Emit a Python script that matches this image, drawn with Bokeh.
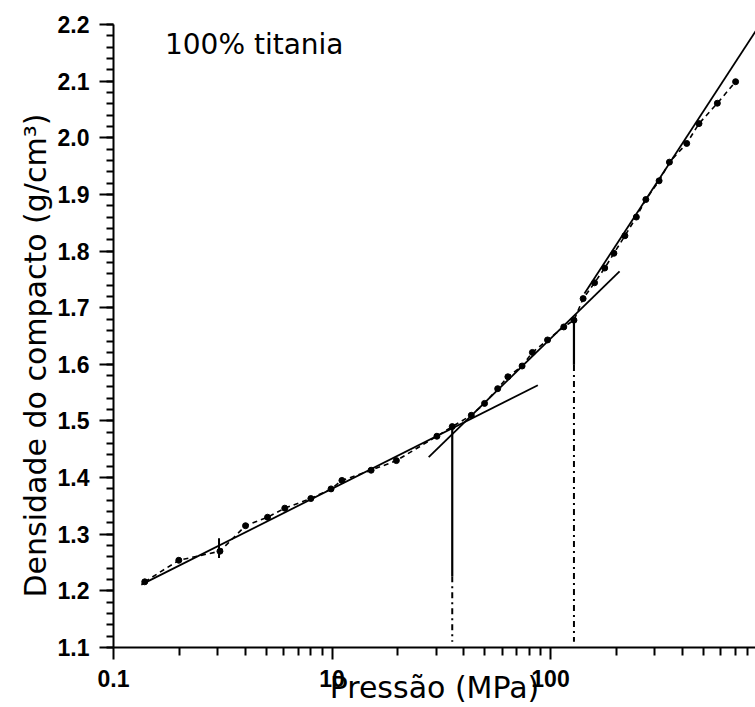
from bokeh.plotting import figure
from bokeh.models import Range1d, FixedTicker, Label, Title
from bokeh.embed import file_html
from bokeh.resources import INLINE

# ---- data (pressure in MPa as labelled, density g/cm3) ----
pressure = [1.39, 1.99, 3.07, 4.02, 5.07, 6.08, 8.0, 9.9, 11.1, 15.1, 19.7,
            30.2, 35.5, 43.4, 49.9, 57.3, 63.8, 74.1, 82.6, 96.9, 115, 128,
            141, 159, 177, 195, 219, 247, 273, 314, 350, 420, 478, 580, 703]
density = [1.216, 1.254, 1.270, 1.315, 1.330, 1.346, 1.363, 1.380, 1.395, 1.413, 1.430,
           1.473, 1.490, 1.510, 1.531, 1.557, 1.578, 1.597, 1.621, 1.643, 1.666, 1.678,
           1.716, 1.744, 1.770, 1.796, 1.827, 1.860, 1.891, 1.924, 1.957, 1.990, 2.025, 2.061, 2.099]

fit1_p = [1.34, 87.5]
fit1_d = [1.211, 1.563]
fit2_p = [27.7, 207]
fit2_d = [1.436, 1.764]
fit3_p = [143, 885]
fit3_d = [1.725, 2.193]

break_p = [35.5, 128]
break_top = [1.490, 1.678]
break_mid = [1.226, 1.599]
axis_floor = 1.1

marker_p = [3.04]
marker_d = [1.258, 1.293]

y_ticks = [1.1, 1.2, 1.3, 1.4, 1.5, 1.6, 1.7, 1.8, 1.9, 2.0, 2.1, 2.2]
y_minor = [round(1.1 + 0.02 * i, 2) for i in range(56)]
x_ticks = [1, 10, 100]
x_tick_labels = {1: "0.1", 10: "10", 100: "100"}
x_minor = [m * d for d in (1, 10, 100) for m in range(2, 10)]

title_text = "100% titania"
xlabel = "Pressão (MPa)"
ylabel = "Densidade do compacto (g/cm³)"

FONT = "DejaVu Sans"
TICKFONT = "Liberation Sans"

p = figure(width=755, height=707, x_axis_type="log",
           x_range=Range1d(1, 867), y_range=Range1d(1.1, 2.2),
           output_backend="svg", toolbar_location=None,
           min_border_left=113, min_border_right=0, min_border_top=24,
           min_border_bottom=58)
p.outline_line_color = None
p.xgrid.visible = False
p.ygrid.visible = False
p.background_fill_color = "white"
p.border_fill_color = "white"

for ax in (p.xaxis[0], p.yaxis[0]):
    ax.axis_line_width = 2
    ax.axis_line_color = "black"
    ax.major_tick_line_width = 2
    ax.minor_tick_line_width = 2
    ax.major_tick_in = 0
    ax.minor_tick_in = 0
    ax.major_label_text_font = TICKFONT
    ax.major_label_text_font_style = "bold"
    ax.major_label_text_font_size = "23px"
    ax.major_label_text_color = "black"

p.yaxis.ticker = FixedTicker(ticks=y_ticks, minor_ticks=y_minor)
p.yaxis.major_tick_out = 14
p.yaxis.minor_tick_out = 7
p.yaxis.major_label_standoff = 10
p.yaxis.major_label_overrides = {t: f"{t:.1f}" for t in y_ticks}

p.xaxis.ticker = FixedTicker(ticks=x_ticks, minor_ticks=x_minor)
p.xaxis.major_tick_out = 12
p.xaxis.minor_tick_out = 8
p.xaxis.major_label_standoff = 10
p.xaxis.major_label_overrides = x_tick_labels
p.xaxis.axis_label = xlabel
p.xaxis.axis_label_text_font = FONT
p.xaxis.axis_label_text_font_style = "normal"
p.xaxis.axis_label_text_font_size = "30px"
p.xaxis.axis_label_text_color = "black"
p.xaxis.axis_label_standoff = -20

# y-axis label as a side title so it can be shifted along the axis
p.add_layout(Title(text=ylabel, align="left", offset=50, standoff=4,
                   text_font=FONT, text_font_style="normal",
                   text_font_size="30px", text_color="black"), "left")

# data: dashed connecting line and dots
p.line(pressure, density, line_color="black", line_width=1.6, line_dash="5 4")
p.scatter(pressure, density, size=6, color="black")

# fitted straight lines
for fp, fd in ((fit1_p, fit1_d), (fit2_p, fit2_d), (fit3_p, fit3_d)):
    p.line(fp, fd, line_color="black", line_width=1.8)

# break-point verticals
p.segment(x0=break_p, y0=break_top, x1=break_p, y1=break_mid,
          line_color="black", line_width=2.2)
p.segment(x0=break_p, y0=break_mid, x1=break_p, y1=[axis_floor + 0.01] * 2,
          line_color="black", line_width=2, line_dash="6 4 2 4")
p.segment(x0=marker_p, y0=[marker_d[0]], x1=marker_p, y1=[marker_d[1]],
          line_color="black", line_width=2)

# panel title text inside the plot
p.add_layout(Label(x=1.72, y=2.165, text=title_text, text_font=FONT,
                   text_font_size="28px", text_color="black",
                   text_baseline="middle", text_align="left"))

open("out.html", "w").write(file_html(p, INLINE))
